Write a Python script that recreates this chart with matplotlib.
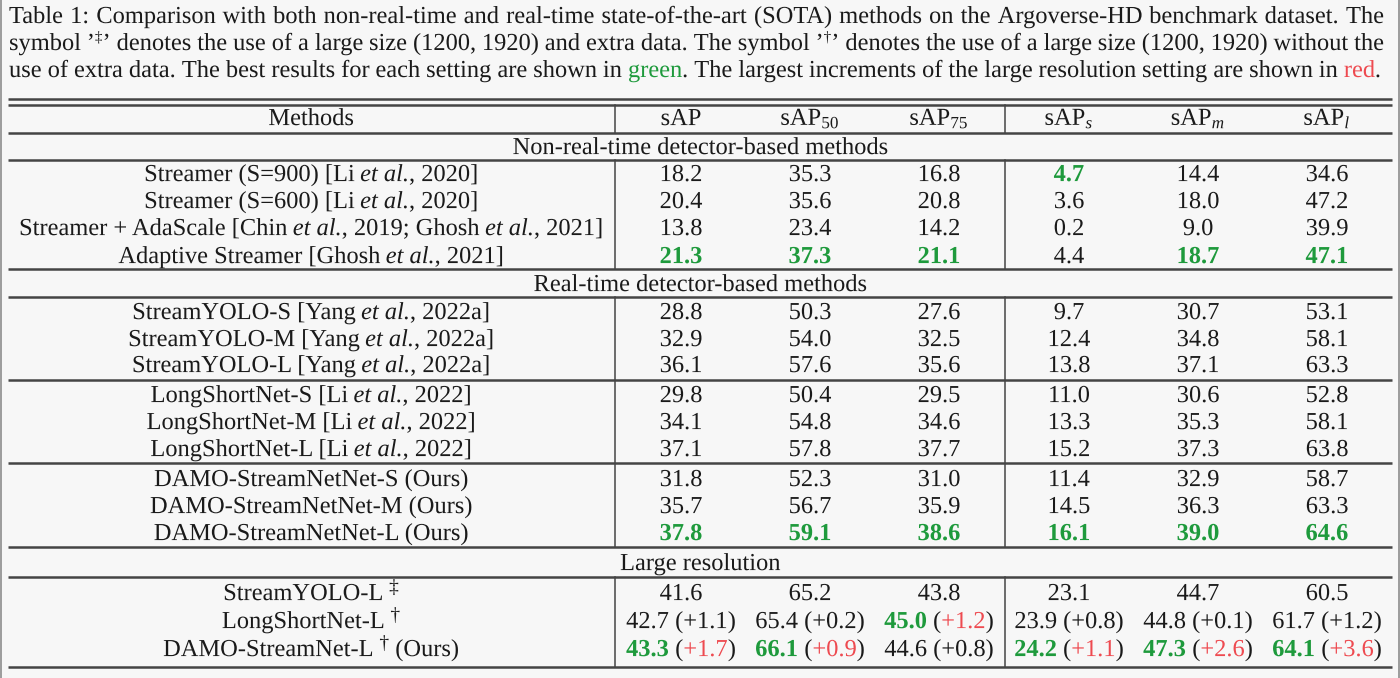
import re
import matplotlib
matplotlib.use('Agg')
import matplotlib.pyplot as plt
import matplotlib.patheffects as pe

SERIF = 'Liberation Serif'
plt.rcParams['font.family'] = [SERIF, 'DejaVu Serif']
plt.rcParams['mathtext.fontset'] = 'custom'
plt.rcParams['mathtext.rm'] = SERIF
plt.rcParams['mathtext.it'] = SERIF + ':italic'
plt.rcParams['mathtext.bf'] = SERIF + ':bold'

# ------------------------------------------------------------------ data
caption_lines = [
    "Table 1: Comparison with both non-real-time and real-time state-of-the-art (SOTA) methods on the Argoverse-HD benchmark dataset. The",
    "symbol ’^‡^’ denotes the use of a large size (1200, 1920) and extra data. The symbol ’^†^’ denotes the use of a large size (1200, 1920) without the",
    "use of extra data. The best results for each setting are shown in <g>green</g>. The largest increments of the large resolution setting are shown in <r>red</r>.",
]

columns = ['Methods', 'sAP', r'sAP$_{50}$', r'sAP$_{75}$', r'sAP$_{s}$', r'sAP$_{m}$', r'sAP$_{l}$']

section_titles = ['Non-real-time detector-based methods',
                  'Real-time detector-based methods',
                  'Large resolution']

nonrt_methods = ['Streamer (S=900) [Li *et al.*, 2020]',
                 'Streamer (S=600) [Li *et al.*, 2020]',
                 'Streamer + AdaScale [Chin *et al.*, 2019; Ghosh *et al.*, 2021]',
                 'Adaptive Streamer [Ghosh *et al.*, 2021]']
nonrt_values = [[18.2, 35.3, 16.8, 4.7, 14.4, 34.6],
                [20.4, 35.6, 20.8, 3.6, 18.0, 47.2],
                [13.8, 23.4, 14.2, 0.2, 9.0, 39.9],
                [21.3, 37.3, 21.1, 4.4, 18.7, 47.1]]
nonrt_best = [(3, 0), (3, 1), (3, 2), (0, 3), (3, 4), (3, 5)]

streamyolo_methods = ['StreamYOLO-S [Yang *et al.*, 2022a]',
                      'StreamYOLO-M [Yang *et al.*, 2022a]',
                      'StreamYOLO-L [Yang *et al.*, 2022a]']
streamyolo_values = [[28.8, 50.3, 27.6, 9.7, 30.7, 53.1],
                     [32.9, 54.0, 32.5, 12.4, 34.8, 58.1],
                     [36.1, 57.6, 35.6, 13.8, 37.1, 63.3]]

longshort_methods = ['LongShortNet-S [Li *et al.*, 2022]',
                     'LongShortNet-M [Li *et al.*, 2022]',
                     'LongShortNet-L [Li *et al.*, 2022]']
longshort_values = [[29.8, 50.4, 29.5, 11.0, 30.6, 52.8],
                    [34.1, 54.8, 34.6, 13.3, 35.3, 58.1],
                    [37.1, 57.8, 37.7, 15.2, 37.3, 63.8]]

damo_methods = ['DAMO-StreamNetNet-S (Ours)',
                'DAMO-StreamNetNet-M (Ours)',
                'DAMO-StreamNetNet-L (Ours)']
damo_values = [[31.8, 52.3, 31.0, 11.4, 32.9, 58.7],
               [35.7, 56.7, 35.9, 14.5, 36.3, 63.3],
               [37.8, 59.1, 38.6, 16.1, 39.0, 64.6]]
damo_best = [(2, c) for c in range(6)]

large_methods = ['StreamYOLO-L ^‡^', 'LongShortNet-L ^†^', 'DAMO-StreamNet-L ^†^ (Ours)']
large_values = [[41.6, 65.2, 43.8, 23.1, 44.7, 60.5],
                [42.7, 65.4, 45.0, 23.9, 44.8, 61.7],
                [43.3, 66.1, 44.6, 24.2, 47.3, 64.1]]
large_increments = [None,
                    [1.1, 0.2, 1.2, 0.8, 0.1, 1.2],
                    [1.7, 0.9, 0.8, 1.1, 2.6, 3.6]]
large_best = [(1, 2), (2, 0), (2, 1), (2, 3), (2, 4), (2, 5)]
large_red = [(1, 2), (2, 0), (2, 1), (2, 3), (2, 4), (2, 5)]

# ------------------------------------------------------------------ style
INK = '#1a1a1a'
GREEN = '#1e9a3c'
RED = '#ee4a50'
RULE = '#454545'
BG = '#f7f7f7'
FS = 17.6          # table font size (pt)
CFS = 17.6         # caption font size (pt)
FX = [pe.Normal()]  # draw glyphs as unhinted outlines

W, H = 1400, 678
fig = plt.figure(figsize=(14, 6.78), dpi=100)
fig.patch.set_facecolor(BG)
ax = fig.add_axes([0, 0, 1, 1])
ax.set_xlim(0, W)
ax.set_ylim(H, 0)
ax.axis('off')
renderer = fig.canvas.get_renderer()

TOKEN = re.compile(r'(\*[^*]+\*|\^[^^]+\^|<g>.*?</g>|<r>.*?</r>)')


def parse(s):
    segs = []
    for part in TOKEN.split(s):
        if not part:
            continue
        d = dict(t=part, color=INK, weight='normal', style='normal', sup=False)
        if part.startswith('*'):
            d.update(t=part[1:-1], style='italic')
        elif part.startswith('^'):
            d.update(t=part[1:-1], sup=True)
        elif part.startswith('<g>'):
            d.update(t=part[3:-4], color=GREEN)
        elif part.startswith('<r>'):
            d.update(t=part[3:-4], color=RED)
        t = d['t']
        core = t.strip(' ')
        lead = len(t) - len(t.lstrip(' '))
        trail = len(t) - len(t.rstrip(' '))
        if lead:
            segs.append(dict(d, t=' ' * lead))
        if core:
            segs.append(dict(d, t=core))
        if trail:
            segs.append(dict(d, t=' ' * trail))
    return segs


_wcache = {}


def text_w(t, size, weight='normal', style='normal'):
    key = (t, size, weight, style)
    if key in _wcache:
        return _wcache[key]
    if t.strip() == '':
        w = len(t) * (text_w('a a', size) - text_w('aa', size))
    else:
        tt = ax.text(0, 0, t, fontsize=size, fontweight=weight, fontstyle=style, family=SERIF)
        w = tt.get_window_extent(renderer).width
        tt.remove()
    _wcache[key] = w
    return w


def seg_size(seg, size, sup_scale):
    return size * sup_scale if seg['sup'] else size


def run_width(segs, size, sup_scale=0.7):
    return sum(text_w(s['t'], seg_size(s, size, sup_scale), s['weight'], s['style']) for s in segs)


def draw_run(x, yb, segs, size, ha='center', sup_scale=0.7, sup_raise=0.36):
    total = run_width(segs, size, sup_scale)
    x0 = x - total / 2 if ha == 'center' else x
    px = size * 100 / 72
    for s in segs:
        sz = seg_size(s, size, sup_scale)
        w = text_w(s['t'], sz, s['weight'], s['style'])
        if s['t'].strip():
            dy = -sup_raise * px if s['sup'] else 0
            ax.text(x0, yb + dy, s['t'], fontsize=sz, fontweight=s['weight'],
                    fontstyle=s['style'], color=s['color'], family=SERIF,
                    ha='left', va='baseline', path_effects=FX)
        x0 += w
    return total


def base(yc, size=FS):
    return yc + 0.33 * size * 100 / 72


# ------------------------------------------------------------------ caption
cap_left = 9
cap_rights = [1384, 1384, 1381]
cap_baselines = [23, 50, 77]
for line, right, yb in zip(caption_lines, cap_rights, cap_baselines):
    words = [parse(w) for w in line.split(' ')]
    widths = [run_width(w, CFS, 0.62) for w in words]
    gap = (right - cap_left - sum(widths)) / (len(words) - 1)
    x = cap_left
    for w, wd in zip(words, widths):
        draw_run(x, yb, w, CFS, ha='left', sup_scale=0.62, sup_raise=0.34)
        x += wd + gap

# ------------------------------------------------------------------ table geometry
XL, XR = 8, 1392
VX = [615, 1005]
col_x = [311, 681, 810, 939, 1069, 1198, 1327]


def hrule(y, lw=1.8):
    ax.plot([XL, XR], [y, y], color=RULE, lw=lw, solid_capstyle='butt')


def vrules(y0, y1):
    for vx in VX:
        ax.plot([vx, vx], [y0, y1], color=RULE, lw=1.1)


for y in [99, 104.5, 133, 160, 269, 297, 380, 463, 547, 577, 667]:
    hrule(y)
vrules(104.5, 133)
vrules(160, 269)
vrules(297, 547)
vrules(577, 667)

# header
for cx, name in zip(col_x, columns):
    ax.text(cx, base(117), name, fontsize=FS, color=INK, family=SERIF, ha='center',
            va='baseline', path_effects=FX)

# section titles
for yc, title in zip([146, 283, 562], section_titles):
    ax.text((XL + XR) / 2, base(yc), title, fontsize=FS, color=INK, family=SERIF,
            ha='center', va='baseline', path_effects=FX)


def num_seg(v, green=False):
    return dict(t=f'{v:.1f}', color=GREEN if green else INK,
                weight='bold' if green else 'normal', style='normal', sup=False)


def plain(t, color=INK):
    return dict(t=t, color=color, weight='normal', style='normal', sup=False)


def draw_group(methods, values, ycs, best=()):
    for r, (m, vals, yc) in enumerate(zip(methods, values, ycs)):
        yb = base(yc)
        draw_run(col_x[0], yb, parse(m), FS, sup_scale=0.8, sup_raise=0.3)
        for c, v in enumerate(vals):
            draw_run(col_x[c + 1], yb, [num_seg(v, (r, c) in best)], FS)


draw_group(nonrt_methods, nonrt_values, [173, 200, 227, 255], nonrt_best)
draw_group(streamyolo_methods, streamyolo_values, [311, 338, 364])
draw_group(longshort_methods, longshort_values, [394, 421, 448])
draw_group(damo_methods, damo_values, [478, 505, 532], damo_best)

# large resolution
for r, (m, vals, inc, yc) in enumerate(zip(large_methods, large_values, large_increments,
                                           [592, 620, 648])):
    yb = base(yc)
    draw_run(col_x[0], yb, parse(m), FS, sup_scale=0.8, sup_raise=0.3)
    for c, v in enumerate(vals):
        segs = [num_seg(v, (r, c) in large_best)]
        if inc is not None:
            col = RED if (r, c) in large_red else INK
            segs += [plain(' '), plain('('), plain(f'+{inc[c]:.1f}', col), plain(')')]
        draw_run(col_x[c + 1], yb, segs, FS)

# screenshot frame edges
ax.plot([1, 1], [0, H], color='#9c9c9c', lw=1.4)
ax.plot([1398.5, 1398.5], [0, H], color='#9c9c9c', lw=1.4)

fig.savefig('out.png', dpi=100, facecolor=BG)
